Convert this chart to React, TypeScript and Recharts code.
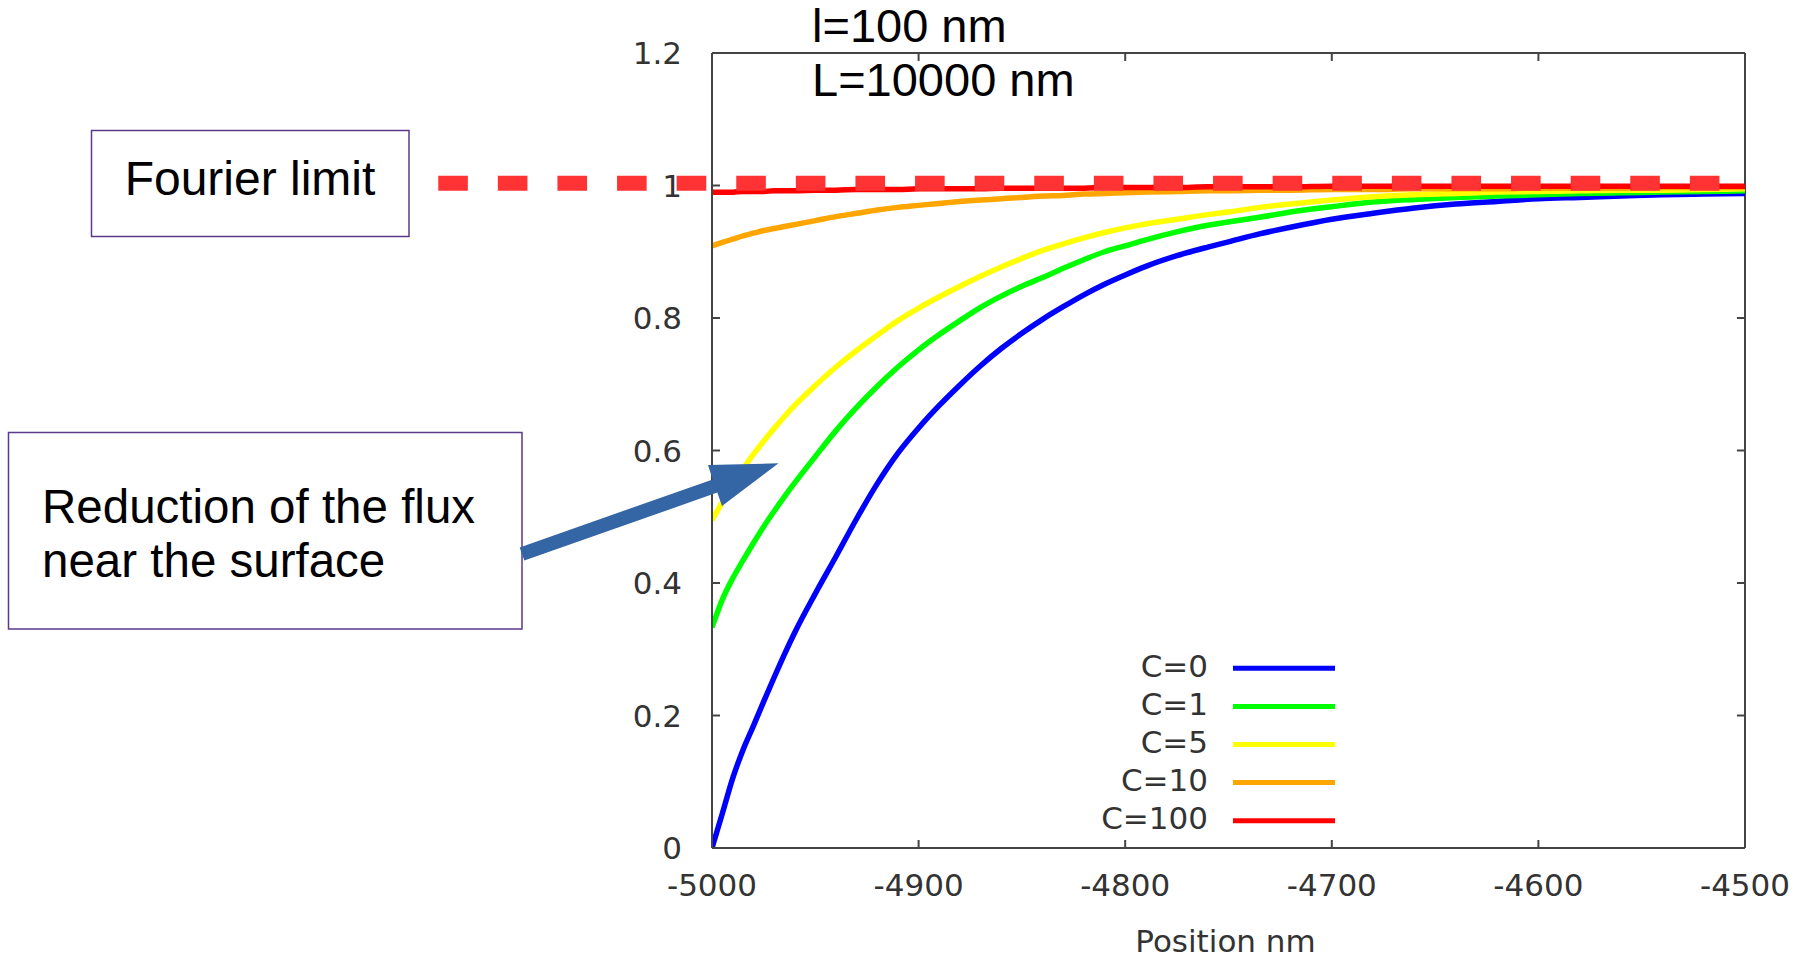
import React from 'react';
import { LineChart, Line, XAxis, YAxis, ReferenceLine } from 'recharts';

// x positions (nm)
const positions = [
  -5000, -4995, -4990, -4985, -4980, -4975, -4970, -4965, -4960, -4950,
  -4940, -4930, -4920, -4910, -4900, -4890, -4880, -4870, -4860, -4850,
  -4840, -4830, -4820, -4810, -4800, -4790, -4775, -4760, -4750, -4735,
  -4720, -4700, -4680, -4660, -4640, -4620, -4600, -4580, -4560, -4540,
  -4520, -4500,
];

const fluxC0 = [
  0, 0.052, 0.105, 0.148, 0.184, 0.221, 0.257, 0.292, 0.325, 0.384,
  0.44, 0.497, 0.55, 0.596, 0.634, 0.668, 0.699, 0.728, 0.754, 0.777,
  0.798, 0.817, 0.835, 0.851, 0.865, 0.878, 0.894, 0.907, 0.915, 0.927,
  0.937, 0.949, 0.958, 0.966, 0.972, 0.976, 0.98, 0.982, 0.984, 0.986,
  0.987, 0.988,
];
const fluxC1 = [
  0.333, 0.375, 0.407, 0.434, 0.46, 0.485, 0.508, 0.53, 0.551, 0.591,
  0.63, 0.665, 0.697, 0.726, 0.752, 0.775, 0.796, 0.816, 0.833, 0.848,
  0.861, 0.875, 0.888, 0.9, 0.909, 0.918, 0.93, 0.94, 0.945, 0.952,
  0.96, 0.968, 0.975, 0.979, 0.982, 0.984, 0.986, 0.988, 0.989, 0.99,
  0.991, 0.992,
];
const fluxC5 = [
  0.495, 0.522, 0.548, 0.572, 0.594, 0.614, 0.633, 0.651, 0.668, 0.698,
  0.726, 0.751, 0.774, 0.796, 0.815, 0.832, 0.848, 0.863, 0.877, 0.89,
  0.902, 0.912, 0.921, 0.929, 0.936, 0.942, 0.949, 0.956, 0.96, 0.967,
  0.972, 0.978, 0.983, 0.986, 0.988, 0.99, 0.991, 0.992, 0.993, 0.993,
  0.994, 0.995,
];
const fluxC10 = [
  0.909, 0.914, 0.919, 0.924, 0.928, 0.932, 0.935, 0.938, 0.941, 0.947,
  0.953, 0.958, 0.963, 0.967, 0.97, 0.973, 0.976, 0.978, 0.98, 0.982,
  0.984, 0.985, 0.987, 0.988, 0.989, 0.99, 0.991, 0.992, 0.992, 0.993,
  0.993, 0.994, 0.994, 0.995, 0.995, 0.995, 0.996, 0.996, 0.996, 0.997,
  0.997, 0.997,
];
const fluxC100 = [
  0.99, 0.99, 0.99, 0.991, 0.991, 0.991, 0.992, 0.992, 0.992, 0.993,
  0.993, 0.994, 0.994, 0.994, 0.995, 0.995, 0.995, 0.995, 0.996, 0.996,
  0.996, 0.996, 0.996, 0.997, 0.997, 0.997, 0.997, 0.998, 0.998, 0.998,
  0.998, 0.999, 0.999, 0.999, 0.999, 0.999, 0.999, 0.999, 0.999, 0.999,
  0.999, 0.999,
];

const xTicks = [-5000, -4900, -4800, -4700, -4600, -4500];
const yTicks = [0, 0.2, 0.4, 0.6, 0.8, 1, 1.2];
const xDomain = [-5000, -4500];
const yDomain = [0, 1.2];

const seriesList = [
  { key: 'c0', name: 'C=0', color: '#0000ff', values: fluxC0 },
  { key: 'c1', name: 'C=1', color: '#00ff00', values: fluxC1 },
  { key: 'c5', name: 'C=5', color: '#ffff00', values: fluxC5 },
  { key: 'c10', name: 'C=10', color: '#ffa500', values: fluxC10 },
  { key: 'c100', name: 'C=100', color: '#ff0000', values: fluxC100 },
];

const fourierLimit = 1;
const fourierStart = -5132.5;

// mirror tick length expressed in data units (about 8 px)
const mirrorTickX = 3.9;
const mirrorTickY = 0.012;

const data = positions.map((x, i) => {
  const row: Record<string, number> = { x };
  seriesList.forEach((s) => {
    row[s.key] = s.values[i];
  });
  return row;
});

const tickFont = { fontSize: 31, fill: '#333333', fontFamily: 'DejaVu Sans' };
const axisColor = '#444444';
const boxColor = '#5a3a8a';
const annoFont = 'Liberation Sans, Arial, sans-serif';

export default function App() {
  return (
    <div style={{ position: 'absolute', left: 0, top: 0, width: 1807, height: 958, background: '#ffffff' }}>
      <LineChart
        width={1807}
        height={958}
        data={data}
        margin={{ top: 53, right: 62, bottom: 0, left: 652 }}
      >
        <XAxis
          dataKey="x"
          type="number"
          domain={xDomain}
          ticks={xTicks}
          interval={0}
          allowDataOverflow
          height={110}
          tickSize={-8}
          tickMargin={34}
          tick={tickFont}
          axisLine={{ stroke: axisColor, strokeWidth: 2 }}
          tickLine={{ stroke: axisColor, strokeWidth: 2 }}
          label={{ value: 'Position nm', position: 'insideBottom', offset: 6, dx: -3, fill: '#333333', fontSize: 31, fontFamily: 'DejaVu Sans' }}
        />
        <YAxis
          type="number"
          domain={yDomain}
          ticks={yTicks}
          interval={0}
          allowDataOverflow
          width={60}
          tickSize={-8}
          tickMargin={38}
          tick={tickFont}
          tickFormatter={(v: number) => String(v)}
          axisLine={{ stroke: axisColor, strokeWidth: 2 }}
          tickLine={{ stroke: axisColor, strokeWidth: 2 }}
        />
        {/* top and right frame edges with mirrored ticks */}
        <ReferenceLine y={yDomain[1]} stroke={axisColor} strokeWidth={2} ifOverflow="visible" />
        <ReferenceLine x={xDomain[1]} stroke={axisColor} strokeWidth={2} ifOverflow="visible" />
        {xTicks.map((t) => (
          <ReferenceLine
            key={`tx${t}`}
            segment={[
              { x: t, y: yDomain[1] },
              { x: t, y: yDomain[1] - mirrorTickY },
            ]}
            stroke={axisColor}
            strokeWidth={2}
            ifOverflow="visible"
          />
        ))}
        {yTicks.map((t) => (
          <ReferenceLine
            key={`ty${t}`}
            segment={[
              { x: xDomain[1], y: t },
              { x: xDomain[1] - mirrorTickX, y: t },
            ]}
            stroke={axisColor}
            strokeWidth={2}
            ifOverflow="visible"
          />
        ))}
        {seriesList.map((s) => (
          <Line
            key={s.key}
            type="monotone"
            dataKey={s.key}
            name={s.name}
            stroke={s.color}
            strokeWidth={5.5}
            dot={false}
            activeDot={false}
            isAnimationActive={false}
          />
        ))}
        <ReferenceLine
          segment={[
            { x: fourierStart, y: fourierLimit + 0.0035 },
            { x: xDomain[1], y: fourierLimit + 0.0035 },
          ]}
          ifOverflow="visible"
          stroke="#ff3333"
          strokeWidth={15}
          strokeDasharray="29.6 30"
        />
      </LineChart>
      <svg
        width={1807}
        height={958}
        style={{ position: 'absolute', left: 0, top: 0, pointerEvents: 'none' }}
      >
        {/* title */}
        <text x={812} y={42} fontFamily={annoFont} fontSize={47} fill="#000">l=100 nm</text>
        <text x={812} y={96} fontFamily={annoFont} fontSize={47} fill="#000">L=10000 nm</text>

        {/* Fourier limit box */}
        <rect x={91.5} y={130.5} width={317.5} height={106} fill="#ffffff" stroke={boxColor} strokeWidth={1.5} />
        <text x={250} y={195} textAnchor="middle" fontFamily={annoFont} fontSize={48} fill="#000">Fourier limit</text>

        {/* Reduction box */}
        <rect x={8.5} y={432.5} width={513.5} height={196.5} fill="#ffffff" stroke={boxColor} strokeWidth={1.5} />
        <text x={42} y={523} fontFamily={annoFont} fontSize={47.5} fill="#000">Reduction of the flux</text>
        <text x={42} y={577} fontFamily={annoFont} fontSize={47.5} fill="#000">near the surface</text>

        {/* arrow */}
        <polygon
          points="519.7,547.4 712.7,479.4 708,465 778.5,463.3 722,506 717.3,492.6 524.3,560.6"
          fill="#3465a4"
        />

        {/* legend */}
        {seriesList.map((s, i) => {
          const cy = 668.3 + i * 38.1;
          return (
            <g key={s.key}>
              <text x={1208} y={cy + 8.5} textAnchor="end" fontFamily="DejaVu Sans" fontSize={31} fill="#333333">
                {s.name}
              </text>
              <line x1={1233} x2={1335} y1={cy} y2={cy} stroke={s.color} strokeWidth={5} />
            </g>
          );
        })}
      </svg>
    </div>
  );
}
